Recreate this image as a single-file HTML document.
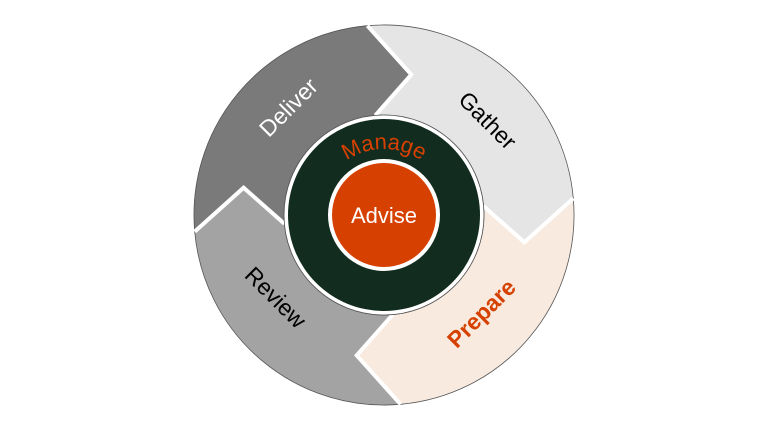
<!DOCTYPE html>
<html><head><meta charset="utf-8"><style>html,body{margin:0;padding:0;background:#fff}svg{display:block}</style></head>
<body>
<svg width="768" height="432" viewBox="0 0 768 432" xmlns="http://www.w3.org/2000/svg" font-family="Liberation Sans, sans-serif">
<defs>
<path id="mg" d="M 318 215 A 66 66 0 0 1 450 215"/>
</defs>
<g stroke="#555" stroke-width="0.8">
<path fill="#e5e5e5" d="M 367.4 25.7 A 190 190 0 0 1 573.3 198.4 L 524.4 242.3 L 483.6 206.3 A 100 100 0 0 0 375.3 115.4 L 411.3 74.6 Z"/>
<path fill="#f8eadf" d="M 573.3 198.4 A 190 190 0 0 1 400.6 404.3 L 356.7 355.4 L 392.7 314.6 A 100 100 0 0 0 483.6 206.3 L 524.4 242.3 Z"/>
<path fill="#a3a3a3" d="M 400.6 404.3 A 190 190 0 0 1 194.7 231.6 L 243.6 187.7 L 284.4 223.7 A 100 100 0 0 0 392.7 314.6 L 356.7 355.4 Z"/>
<path fill="#7a7a7a" d="M 194.7 231.6 A 190 190 0 0 1 367.4 25.7 L 411.3 74.6 L 375.3 115.4 A 100 100 0 0 0 284.4 223.7 L 243.6 187.7 Z"/>
</g>
<g fill="none" stroke="#fff" stroke-width="4" stroke-linejoin="miter">
<path d="M 367.4 25.7 L 411.3 74.6 L 375.3 115.4"/>
<path d="M 573.3 198.4 L 524.4 242.3 L 483.6 206.3"/>
<path d="M 400.6 404.3 L 356.7 355.4 L 392.7 314.6"/>
<path d="M 194.7 231.6 L 243.6 187.7 L 284.4 223.7"/>
</g>
<circle cx="384" cy="215" r="100" fill="#fff" stroke="#555" stroke-width="0.8"/>
<circle cx="384" cy="215" r="96" fill="#122d20"/>
<circle cx="384" cy="215" r="56" fill="#fff"/>
<circle cx="384" cy="215" r="52" fill="#d64000"/>
<text font-size="22" fill="#d64000" text-anchor="middle"><textPath href="#mg" startOffset="50%">Manage</textPath></text>
<text x="384" y="223" font-size="22" fill="#fff" text-anchor="middle">Advise</text>
<text font-size="23" fill="#fff" text-anchor="middle" transform="translate(294,113) rotate(-45)">Deliver</text>
<text font-size="23" fill="#000" text-anchor="middle" transform="translate(482,126) rotate(45)">Gather</text>
<text font-size="23" fill="#000" text-anchor="middle" transform="translate(270,303) rotate(45)">Review</text>
<text font-size="23" fill="#d64000" font-weight="bold" text-anchor="middle" transform="translate(487,319) rotate(-45)">Prepare</text>
</svg>
</body></html>
